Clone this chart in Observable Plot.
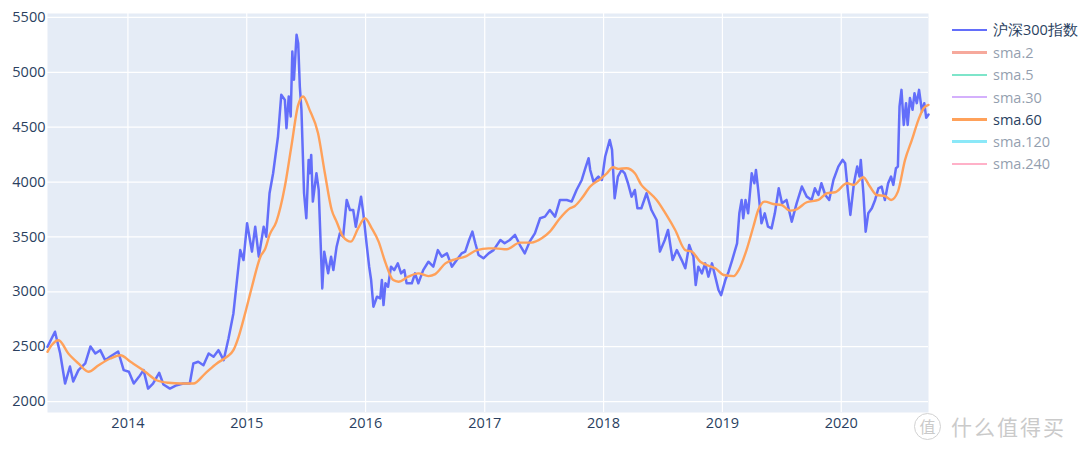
<!DOCTYPE html>
<html><head><meta charset="utf-8">
<script src="https://cdn.jsdelivr.net/npm/d3@7"></script>
<script src="https://cdn.jsdelivr.net/npm/@observablehq/plot@0.6"></script>
<style>
html,body{margin:0;padding:0;background:#fff;}
#wrap{position:relative;width:1080px;height:452px;overflow:hidden;font-family:"Open Sans",sans-serif;}
#legend{position:absolute;left:952px;top:19px;}
.item{display:flex;align-items:center;height:22.3px;font-size:14.5px;color:#2a3f5f;white-space:nowrap;}
.item .sw{width:35px;height:2.4px;margin-right:6px;}
#wm{position:absolute;left:914px;top:411px;display:flex;align-items:center;color:#cacaca;font-family:"Noto Sans CJK SC",sans-serif;}
#wm .c{width:27px;height:27px;border:1.6px solid #d2d2d2;border-radius:50%;display:flex;align-items:center;justify-content:center;font-size:16px;background:#fff;box-sizing:border-box;}
#wm .t{font-size:21px;margin-left:10px;letter-spacing:2px;}
</style></head><body>
<div id="wrap"><div id="chart"></div><div id="legend"></div><div id="wm"><div class="c">值</div><div class="t">什么值得买</div></div></div>
<script>
const idxDates = ["2013-04-29","2013-05-22","2013-06-07","2013-06-22","2013-07-07","2013-07-17","2013-08-02","2013-08-23","2013-09-08","2013-09-23","2013-10-08","2013-10-23","2013-11-08","2013-12-02","2013-12-19","2014-01-04","2014-01-19","2014-02-04","2014-02-18","2014-03-04","2014-03-19","2014-04-07","2014-04-20","2014-05-10","2014-05-31","2014-06-20","2014-07-10","2014-07-21","2014-08-05","2014-08-21","2014-09-06","2014-09-21","2014-10-06","2014-10-22","2014-11-06","2014-11-21","2014-12-02","2014-12-12","2014-12-22","2015-01-02","2015-01-17","2015-01-27","2015-02-07","2015-02-22","2015-03-02","2015-03-12","2015-03-23","2015-04-07","2015-04-17","2015-04-28","2015-05-03","2015-05-10","2015-05-16","2015-05-21","2015-05-26","2015-06-03","2015-06-08","2015-06-13","2015-06-18","2015-06-26","2015-07-03","2015-07-10","2015-07-14","2015-07-18","2015-07-23","2015-08-03","2015-08-10","2015-08-21","2015-08-27","2015-09-08","2015-09-17","2015-09-24","2015-10-04","2015-10-14","2015-10-24","2015-11-04","2015-11-14","2015-11-24","2015-12-02","2015-12-09","2015-12-18","2015-12-25","2016-01-05","2016-01-12","2016-01-18","2016-01-25","2016-02-05","2016-02-15","2016-02-20","2016-02-25","2016-03-02","2016-03-10","2016-03-19","2016-03-29","2016-04-09","2016-04-19","2016-04-29","2016-05-06","2016-05-22","2016-06-01","2016-06-11","2016-06-26","2016-07-12","2016-07-27","2016-08-10","2016-08-22","2016-09-07","2016-09-22","2016-10-07","2016-10-22","2016-11-02","2016-11-14","2016-11-24","2016-12-03","2016-12-13","2016-12-28","2017-01-13","2017-01-28","2017-02-18","2017-03-03","2017-03-19","2017-04-04","2017-04-19","2017-05-04","2017-05-19","2017-06-04","2017-06-20","2017-07-05","2017-07-20","2017-08-05","2017-08-20","2017-09-10","2017-09-25","2017-10-10","2017-10-26","2017-11-06","2017-11-16","2017-11-21","2017-12-01","2017-12-16","2017-12-27","2018-01-06","2018-01-20","2018-01-27","2018-02-04","2018-02-14","2018-02-25","2018-03-07","2018-03-17","2018-03-28","2018-04-07","2018-04-15","2018-04-27","2018-05-13","2018-05-28","2018-06-13","2018-06-23","2018-07-08","2018-07-18","2018-08-01","2018-08-14","2018-08-29","2018-09-09","2018-09-21","2018-10-04","2018-10-11","2018-10-19","2018-10-30","2018-11-09","2018-11-19","2018-11-30","2018-12-10","2018-12-20","2018-12-28","2019-01-10","2019-01-20","2019-01-31","2019-02-15","2019-02-22","2019-03-01","2019-03-06","2019-03-13","2019-03-21","2019-04-01","2019-04-09","2019-04-14","2019-04-21","2019-05-01","2019-05-11","2019-05-21","2019-06-01","2019-06-11","2019-06-23","2019-07-03","2019-07-17","2019-08-02","2019-08-17","2019-09-02","2019-09-17","2019-10-02","2019-10-12","2019-10-23","2019-11-01","2019-11-13","2019-11-25","2019-12-08","2019-12-23","2020-01-05","2020-01-13","2020-01-22","2020-01-29","2020-02-09","2020-02-19","2020-02-26","2020-03-01","2020-03-09","2020-03-16","2020-03-24","2020-04-04","2020-04-14","2020-04-24","2020-05-04","2020-05-14","2020-05-24","2020-06-02","2020-06-09","2020-06-17","2020-06-23","2020-06-28","2020-07-04","2020-07-11","2020-07-18","2020-07-23","2020-07-30","2020-08-07","2020-08-13","2020-08-20","2020-08-27","2020-09-05","2020-09-12","2020-09-18","2020-09-25"];
const idxValues = [2499,2636,2438,2164,2319,2182,2286,2347,2502,2438,2468,2377,2410,2456,2286,2272,2164,2225,2286,2118,2164,2262,2155,2118,2149,2164,2164,2347,2362,2331,2438,2408,2468,2377,2575,2803,3107,3380,3289,3624,3366,3593,3320,3593,3502,3898,4080,4415,4795,4749,4491,4780,4597,5190,4932,5342,5266,4871,4658,3898,3670,4202,4080,4247,3822,4080,3928,3031,3366,3168,3320,3198,3411,3533,3502,3837,3745,3745,3593,3715,3867,3715,3411,3229,3107,2864,2955,2940,3107,2879,3077,3046,3229,3198,3259,3168,3198,3077,3077,3168,3077,3198,3274,3229,3380,3320,3350,3229,3289,3350,3366,3472,3548,3442,3335,3305,3350,3380,3472,3442,3472,3518,3426,3350,3457,3533,3670,3685,3745,3685,3837,3837,3822,3928,4019,4126,4217,4110,4004,4050,4019,4233,4384,4293,3852,4050,4110,4080,3989,3867,3928,3761,3761,3898,3745,3654,3366,3472,3563,3289,3380,3289,3214,3426,3320,3061,3229,3168,3259,3138,3259,3138,3016,2970,3107,3183,3289,3442,3715,3837,3670,3837,3715,4080,3989,4110,3928,3624,3715,3593,3578,3715,3943,3806,3837,3639,3806,3959,3867,3837,3943,3882,3989,3882,3837,4019,4141,4202,4172,3898,3700,3989,4141,4050,4202,3898,3548,3715,3761,3837,3943,3959,3837,3989,4050,3974,4126,4141,4689,4840,4521,4719,4521,4765,4658,4810,4719,4840,4643,4719,4585,4616];
const smaDates = ["2013-04-29","2013-05-12","2013-06-02","2013-07-02","2013-08-02","2013-09-02","2013-10-03","2013-11-08","2013-12-09","2014-01-09","2014-02-09","2014-02-23","2014-03-30","2014-05-05","2014-06-15","2014-07-21","2014-08-26","2014-10-01","2014-11-01","2014-11-21","2014-12-07","2014-12-27","2015-01-17","2015-02-12","2015-02-27","2015-03-12","2015-04-02","2015-04-28","2015-05-18","2015-06-08","2015-06-23","2015-07-13","2015-08-08","2015-08-29","2015-09-19","2015-10-04","2015-10-24","2015-11-17","2015-12-09","2015-12-30","2016-01-20","2016-02-10","2016-03-01","2016-03-26","2016-04-11","2016-05-11","2016-06-11","2016-07-12","2016-08-02","2016-09-02","2016-10-02","2016-11-02","2016-12-08","2017-01-13","2017-02-03","2017-03-09","2017-04-19","2017-05-25","2017-06-25","2017-07-20","2017-08-20","2017-09-20","2017-10-05","2017-10-26","2017-11-21","2017-12-21","2018-01-11","2018-01-30","2018-02-16","2018-03-12","2018-04-07","2018-04-27","2018-05-18","2018-06-13","2018-07-13","2018-08-09","2018-09-09","2018-09-29","2018-10-25","2018-11-22","2018-12-10","2019-01-05","2019-02-05","2019-02-20","2019-03-16","2019-04-06","2019-04-21","2019-05-11","2019-06-06","2019-07-02","2019-07-27","2019-08-17","2019-09-17","2019-10-23","2019-11-18","2019-12-13","2020-01-19","2020-02-09","2020-03-09","2020-03-29","2020-04-19","2020-05-14","2020-06-02","2020-06-23","2020-07-15","2020-08-05","2020-08-25","2020-09-10","2020-09-25"];
const smaValues = [2453,2514,2559,2438,2347,2271,2331,2392,2422,2362,2301,2271,2194,2171,2164,2164,2255,2347,2408,2468,2590,2803,3046,3320,3395,3518,3639,3959,4324,4703,4780,4658,4445,4080,3745,3639,3502,3457,3578,3670,3578,3457,3274,3107,3092,3138,3168,3143,3161,3259,3296,3320,3380,3396,3396,3387,3448,3448,3487,3548,3670,3761,3782,3852,3959,4026,4080,4135,4120,4126,4080,3974,3913,3837,3700,3563,3380,3366,3274,3235,3214,3153,3143,3198,3380,3593,3745,3822,3800,3791,3740,3752,3816,3837,3898,3907,3989,3974,4044,3959,3882,3873,3837,3913,4202,4384,4567,4673,4703];
const yTicks = [2000,2500,3000,3500,4000,4500,5000,5500];
const xTickYears = [2014,2015,2016,2017,2018,2019,2020];
const legendNames = ["沪深300指数","sma.2","sma.5","sma.30","sma.60","sma.120","sma.240"];
const legendColors = ["#636efa","#EF553B","#00cc96","#ab63fa","#FFA15A","#19d3f3","#FF6692"];
const legendShown = [true,false,false,false,true,false,false];

const parse = d3.utcParse("%Y-%m-%d");
const idx = idxDates.map((d,i)=>({date:parse(d), value:idxValues[i]}));
const sma = smaDates.map((d,i)=>({date:parse(d), value:smaValues[i]}));
const yearDates = xTickYears.map(y=>new Date(Date.UTC(y,0,1)));

const chart = Plot.plot({
  width:1080, height:452,
  marginLeft:47, marginRight:152, marginTop:13, marginBottom:40,
  style:{background:"transparent", fontFamily:"'Open Sans', sans-serif", fontSize:"14.5px", color:"#2a3f5f", overflow:"visible"},
  x:{type:"utc", domain:d3.extent(idx, d=>d.date), ticks:yearDates, tickFormat:d3.utcFormat("%Y"), tickSize:0, tickPadding:5, label:null},
  y:{domain:[1900,5536], ticks:yTicks, tickFormat:d=>String(d), tickSize:0, tickPadding:2, label:null},
  marks:[
    Plot.frame({fill:"#E5ECF6", stroke:"none"}),
    Plot.ruleX(yearDates, {stroke:"#ffffff", strokeWidth:1.2}),
    Plot.ruleY(yTicks, {stroke:"#ffffff", strokeWidth:1.2}),
    Plot.line(idx, {x:"date", y:"value", stroke:legendColors[0], strokeWidth:2.5, strokeLinejoin:"round"}),
    Plot.line(sma, {x:"date", y:"value", stroke:legendColors[4], strokeWidth:2.4, curve:"monotone-x"})
  ]
});
document.getElementById("chart").appendChild(chart);

const lg = document.getElementById("legend");
legendNames.forEach((n,i)=>{
  const it = document.createElement("div");
  it.className = "item";
  it.style.opacity = legendShown[i] ? 1 : 0.5;
  const sw = document.createElement("div");
  sw.className = "sw"; sw.style.background = legendColors[i];
  const tx = document.createElement("span");
  tx.textContent = n;
  it.appendChild(sw); it.appendChild(tx);
  lg.appendChild(it);
});
</script>
</body></html>
